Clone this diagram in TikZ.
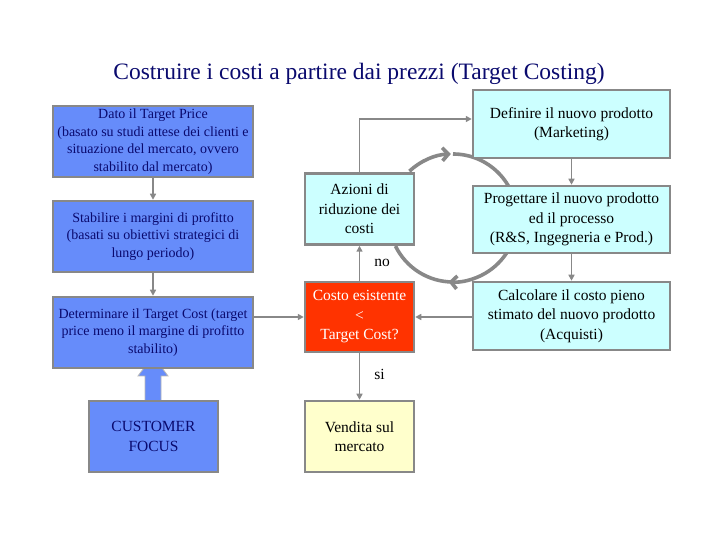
\documentclass[tikz,border=0pt]{standalone}
\usepackage{fontspec}
\setmainfont{Liberation Serif}
\usetikzlibrary{arrows.meta,backgrounds}
\definecolor{bblue}{RGB}{102,140,250}
\definecolor{bcyan}{RGB}{204,255,255}
\definecolor{bred}{RGB}{255,51,0}
\definecolor{byel}{RGB}{255,255,204}
\definecolor{bgray}{RGB}{136,136,136}
\definecolor{navyt}{RGB}{10,10,110}
\tikzset{
  box/.style={draw=bgray, line width=2.5pt, align=center, inner sep=0pt},
  lbox/.style={box, fill=bblue, text=navyt, minimum width=200pt, minimum height=71pt, font=\fontsize{14}{17.5}\selectfont},
  rbox/.style={box, fill=bcyan, text=black, minimum width=197pt, minimum height=68pt, font=\fontsize{15.5}{19.5}\selectfont},
  mbox/.style={box, minimum width=109pt, minimum height=71pt, font=\fontsize{15.5}{19.5}\selectfont},
  conn/.style={draw=bgray, line width=1.8pt, -{Triangle[length=6pt,width=6pt]}},
  circ/.style={draw=bgray, line width=3.6pt},
  lbl/.style={font=\fontsize{15.5}{17}\selectfont, inner sep=0pt}
}
\begin{document}
\begin{tikzpicture}[x=1pt,y=1pt]
\useasboundingbox (0,0) rectangle (720,540);
\node[font=\fontsize{23.5}{28}\selectfont, text=navyt] (title) at (359,466.5) {Costruire i costi a partire dai prezzi (Target Costing)};

\node[lbox] (dato) at (153,398.5) {Dato il Target Price\\(basato su studi attese dei clienti e\\situazione del mercato, ovvero\\stabilito dal mercato)};
\node[lbox] (stab) at (153,303.5) {Stabilire i margini di profitto\\(basati su obiettivi strategici di\\lungo periodo)};
\node[lbox] (det) at (153,207.5) {Determinare il Target Cost (target\\price meno il margine di profitto\\stabilito)};
\node[lbox, minimum width=129pt, font=\fontsize{15.5}{19.5}\selectfont] (cust) at (153.5,103.5) {CUSTOMER\\FOCUS};

\node[mbox, fill=bcyan] (az) at (359.5,331) {Azioni di\\riduzione dei\\costi};
\node[mbox, fill=bred, text=white, minimum height=70pt] (costo) at (359.5,223) {Costo esistente\\<\\Target Cost?};
\node[mbox, fill=byel] (vend) at (359.5,103.5) {Vendita sul\\mercato};

\node[rbox] (def) at (571.5,416) {Definire il nuovo prodotto\\(Marketing)};
\node[rbox, minimum height=67pt] (prog) at (571.5,320.5) {Progettare il nuovo prodotto\\ed il processo\\(R\&S, Ingegneria e Prod.)};
\node[rbox] (calc) at (571.5,224) {Calcolare il costo pieno\\stimato del nuovo prodotto\\(Acquisti)};

\begin{scope}[on background layer]
  \draw[circ, -{Straight Barb[length=6pt,width=13pt]}] (409.4,368.8) arc[start angle=133,end angle=92,radius=64];
  \draw[circ, -{Straight Barb[length=6pt,width=13pt]}] (453,386) arc[start angle=90,end angle=-94,radius=64];
  \draw[circ] (453,258) arc[start angle=-90,end angle=-154,radius=64];
  \draw[fill=bblue, draw=bgray!60, line width=0.8pt] (145,138) -- (145,164) -- (138,164) -- (153,184) -- (168,164) -- (161,164) -- (161,138) -- cycle;
\end{scope}

\draw[conn] (dato) -- (stab);
\draw[conn] (stab) -- (det);
\draw[conn] (det.east |- costo) -- (costo.west);
\draw[conn] (calc.west |- costo) -- (costo.east);
\draw[conn] (costo) -- (az) node[lbl, pos=0.5, right=14pt] {no};
\draw[conn] (az.north) |- ([yshift=5pt]def.west);
\draw[conn] (costo) -- (vend) node[lbl, pos=0.45, right=14pt] {si};
\draw[conn] (def) -- (prog);
\draw[conn] (prog) -- (calc);
\end{tikzpicture}
\end{document}
